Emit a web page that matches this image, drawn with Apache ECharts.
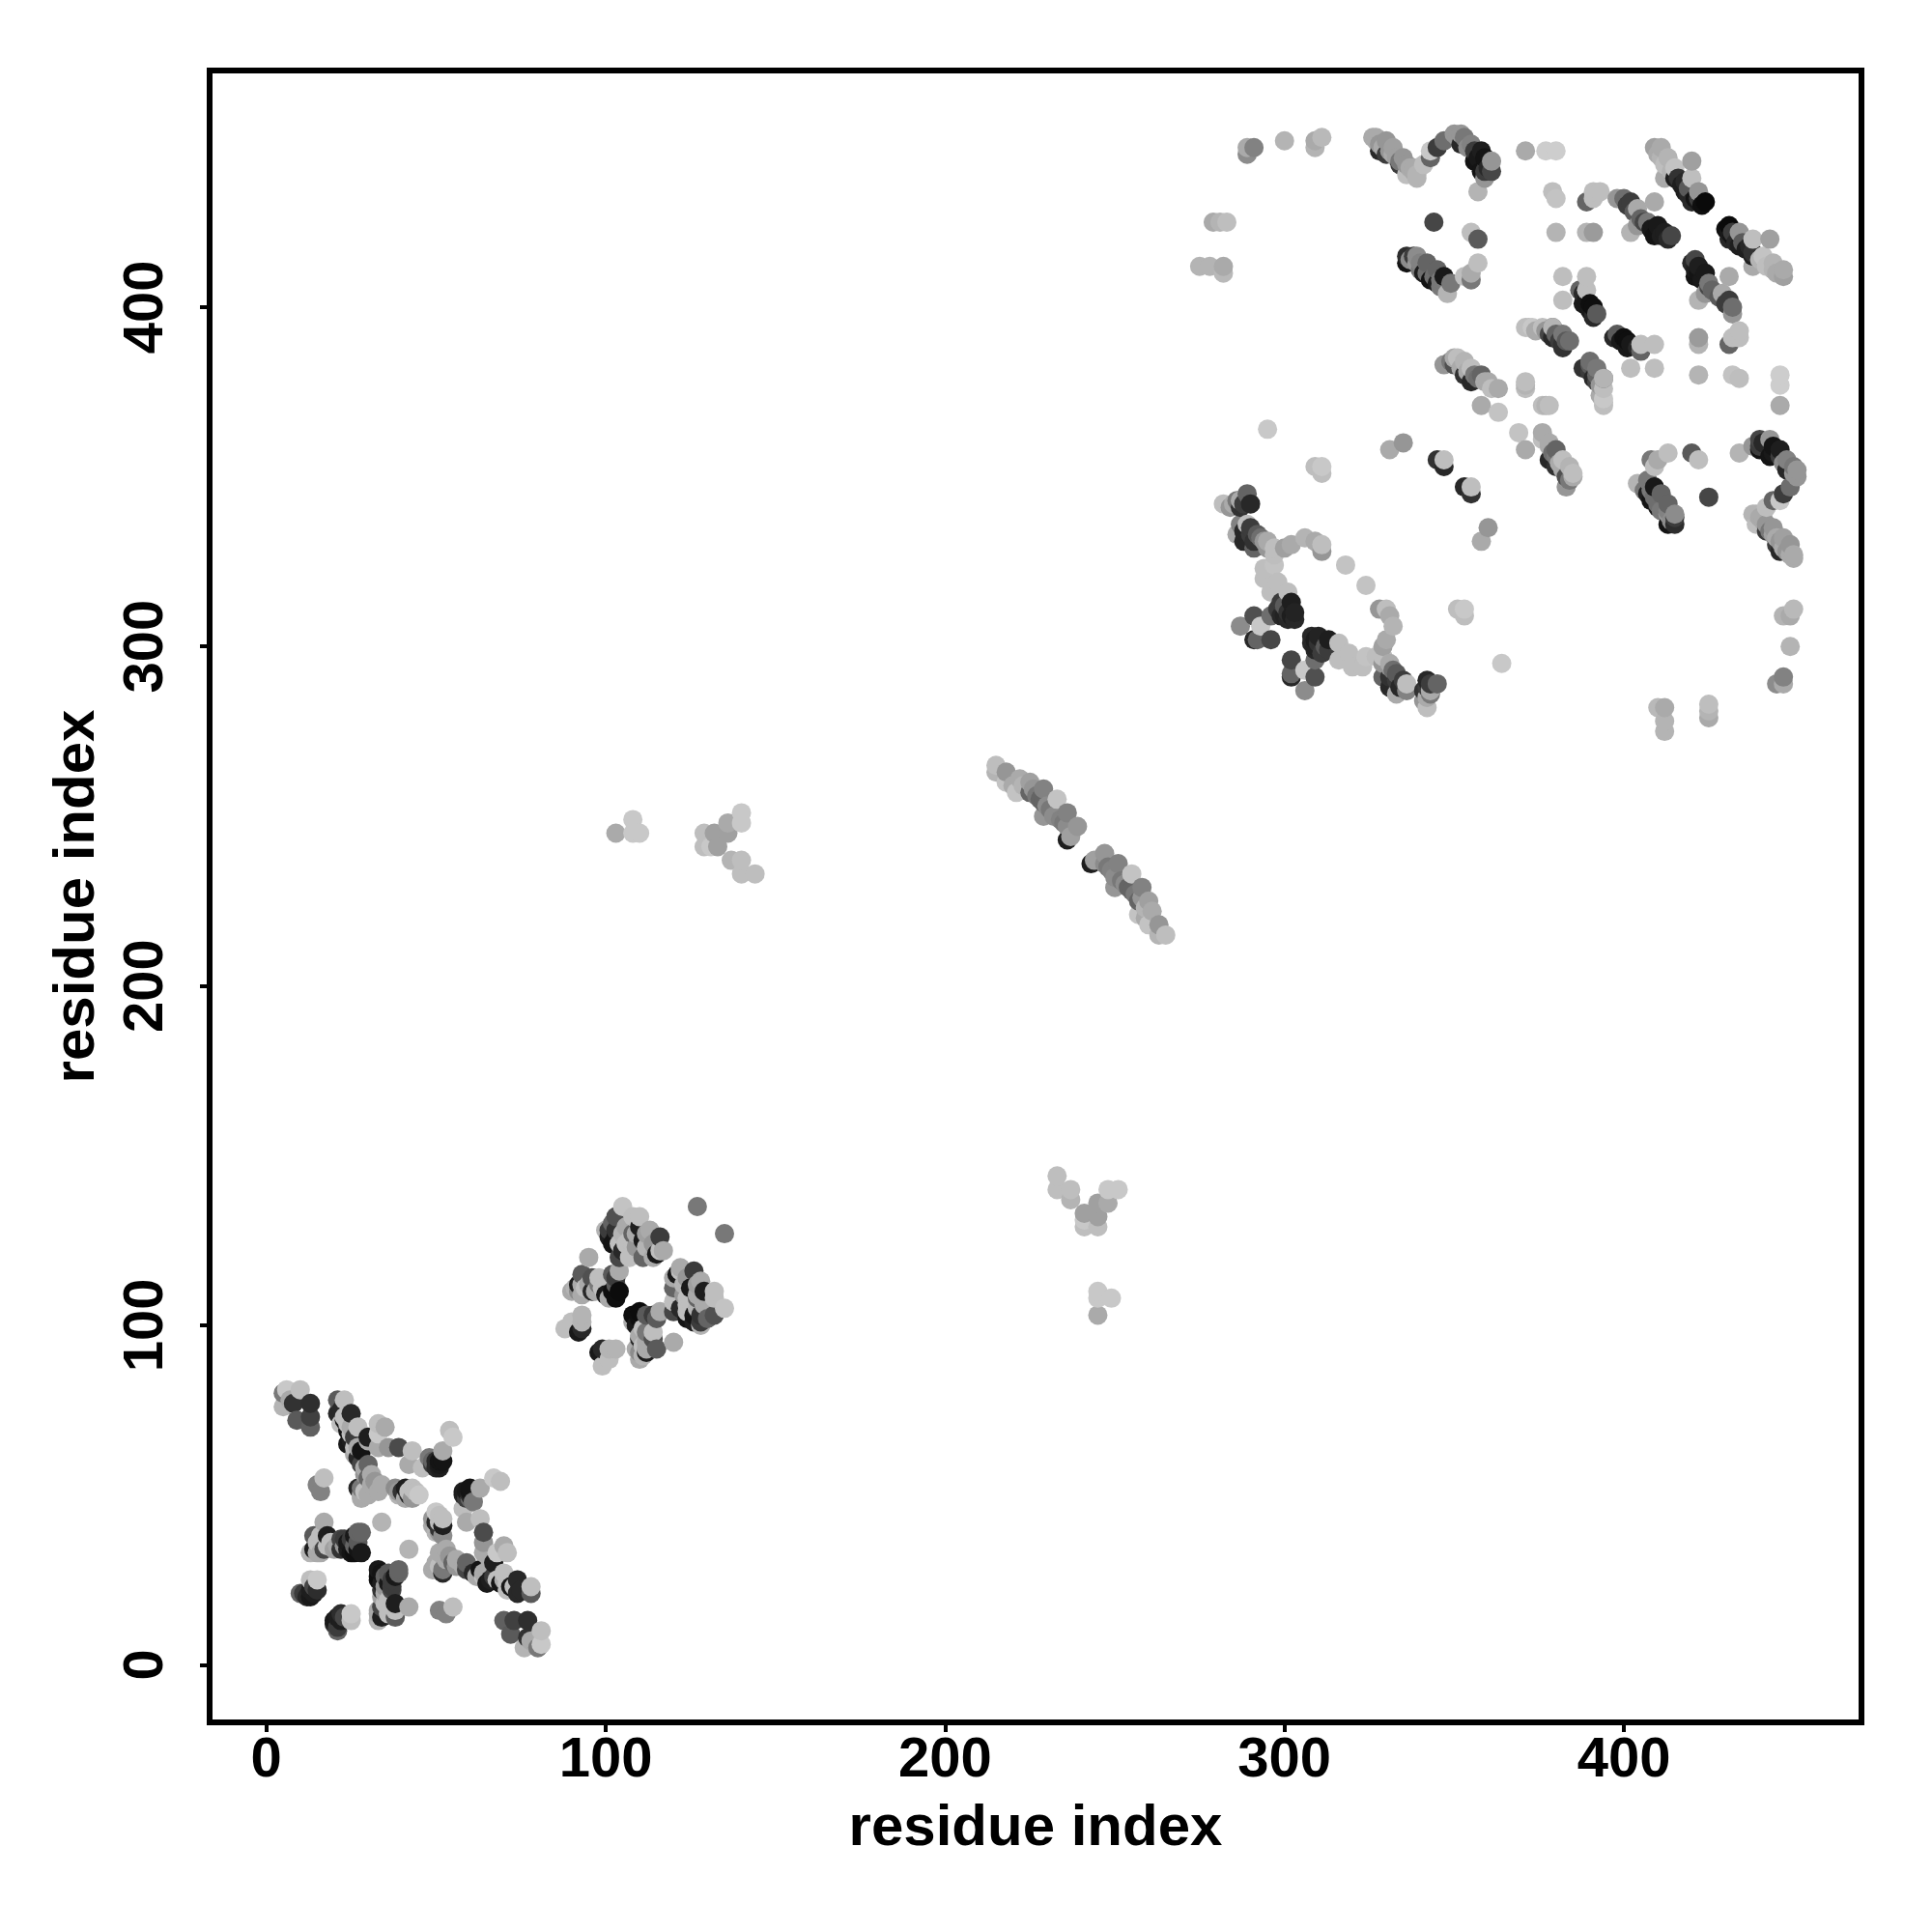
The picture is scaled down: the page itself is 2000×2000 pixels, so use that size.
<!DOCTYPE html>
<html><head><meta charset="utf-8">
<style>html,body{margin:0;padding:0;background:#fff}#c{width:2000px;height:2000px}</style>
<script src="https://cdn.jsdelivr.net/npm/echarts@6/dist/echarts.min.js"></script>
</head><body><div id="c"></div>
<script>
// contacts [residue i, residue j, grey level]; the map is symmetric, so each pair is drawn at (i,j) and (j,i)
const tickValues = [0,100,200,300,400];
const axisTitle = 'residue index';
const clusterA = [
[13,70,96],[9,72,90],[13,73,64],[8,77,50],[13,77,46],[5,76,180],[5,80,120],[7,78,170],[6,81,200],[10,81,190],
[21,78,90],[21,74,40],[25,74,40],[22,71,190],[24,69,20],[24,65,25],[23,78,190],[27,70,190],[25,66,30],[27,64,170],[28,63,20],[28,59,70],[30,59,100],[30,55,100],[28,52,120],[28,49,170],[28,50,170],[32,54,150],[34,53,170],[33,51,170],
[30,67,30],[30,66,170],[33,71,190],[35,70,170],[33,68,200],[33,64,170],[36,64,150],[39,64,75],[43,63,190],[42,59,170],[46,58,190],[48,61,120],[52,63,170],[50,58,40],[51,59,25],[54,69,190],[55,67,200],
[38,52,140],[41,52,30],[39,50,180],[43,49,150],[43,52,190],[45,50,200],
[15,53,130],[16,51,130],[17,55,190],
[34,42,180],[17,42,170],[14,38,90],[18,38,30],[13,33,180],[14,34,30],[17,34,70],[19,36,190],[22,37,70],[22,34,50],[20,34,160],[24,36,25],[26,38,25],[28,39,100],[25,33,20],[28,33,25],
[10,21,100],[13,20,25],[15,22,45],[13,25,190],[15,25,200],
[22,75,40],[23,73,190],[23,72,25],[24,71,190],[25,70,170],[25,68,190],[26,67,60],[26,64,190],[26,62,170],[27,61,40],[29,58,170],[29,56,150],[31,56,170],[31,53,170],[27,52,40],[29,51,190],[30,50,170],
[49,60,100],[49,59,60],[50,60,40],[51,60,20],[52,60,20],[51,58,30],[39,51,150],[40,51,50],[42,50,40],[42,51,190],[44,51,190],[41,49,170],
[16,38,190],[15,36,190],[15,33,170],[16,33,170],[18,35,190],[23,35,150],[24,34,30],[26,35,100],[26,33,15],[27,36,90],[27,34,20],[23,37,60],[25,37,60],[27,39,100],[21,35,170],
[12,20,40],[13,22,30],[14,21,30],[14,23,70],[11,21,60]
];
const clusterB = [
[100,128,180],[103,132,80],[105,135,195],[101,126,30],[104,120,70],[102,124,20],[107,125,190],[107,120,190],[108,132,190],[110,132,190],[110,129,30],[111,125,25],[111,120,100],[113,128,170],[109,123,150],[115,121,25],[116,122,190],[116,126,60],
[95,120,170],[93,115,90],[90,110,170],[93,109,170],[92,112,30],[96,114,80],[98,114,190],[96,110,40],[99,111,190],[100,109,25],[102,115,90],[103,108,15],[104,110,12],[104,116,170],
[88,99,190],[90,101,190],[92,98,25],[93,99,40],[93,103,180],[93,101,180],
[127,135,120],
[101,128,60],[102,130,100],[103,126,20],[103,128,50],[104,124,190],[105,127,180],[105,122,40],[106,129,170],[106,124,190],[108,127,100],[108,124,190],[109,127,170],[112,123,180],[112,127,160],[114,124,150],[114,120,170],[117,122,170],
[93,112,170],[94,111,190],[95,112,170],[97,110,170],[98,112,120],[101,108,170],[102,110,15],[103,112,90],[103,114,60],[91,111,180],[92,110,140]
];
const clusterC = [
[215,265,190],[215,263,180],[218,260,195],[218,263,150],[221,257,195],[222,261,170],[225,257,100],[225,260,160],[226,258,150],[229,254,100],[229,250,150],[229,258,130],[233,255,195],[232,250,140],[236,251,130],[236,247,140],[236,243,30],[239,247,150],[237,244,160],
[220,259,170],[223,259,180],[227,256,120],[228,255,100],[230,253,140],[231,252,120],[234,249,130],[235,248,120]
];
const clusterD = [
[103,245,170],[108,249,200],[108,245,200],[110,245,200],
[129,245,190],[129,241,190],[131,241,200],[132,245,160],[133,241,160],[136,248,170],[136,245,160],[140,251,200],[140,248,200],[137,237,180],[140,237,190],[140,233,190],[144,233,190]
];
const clusterE = [
[282,342,190],[284,341,150],[285,342,170],[287,341,50],[290,342,40],[287,343,170],[289,345,100],
[287,336,130],[286,333,170],[289,336,190],[288,331,40],[290,333,60],[292,333,90],[291,329,100],[295,331,170],[297,329,190],[297,327,190],[300,329,160],[302,330,170],[297,324,195],[294,323,190],[294,320,190],[298,319,190],[296,316,190],
[298,311,60],[299,309,40],[301,310,50],[303,310,35],[300,312,90],[301,316,190],
[306,332,180],[309,331,170],[311,328,150],[311,330,190],[318,324,195],
[296,309,110],[291,309,80],[287,306,140],[293,306,200],[291,302,40],[292,302,100],[296,302,70],
[288,342,60],[286,343,120],[289,343,60],[288,334,40],[290,335,60],[291,331,50],[293,332,110],[294,331,150],[295,329,150],[299,313,60],[300,309,35],[302,309,30],[301,308,40],[303,308,40],[302,313,30]
];
const clusterF = [
[326,450,170],[328,446,40],[327,450,170],[330,449,150],[330,445,60],[332,447,160],[334,442,60],[335,444,150],[338,441,170],[339,438,180],[336,439,190],[341,442,190],[343,446,200],[343,444,100],[345,447,60],[347,449,110],
[350,451,150],[352,451,150],[352,448,40],[353,450,120],[355,448,130],[356,443,20],[358,440,20],[358,446,30],[359,444,20],[359,440,60],[361,440,70],[361,443,150],[359,438,150],[357,434,180],
[344,425,70],[355,422,190],[357,420,90],
[336,415,45],[336,413,20],[338,415,60],[339,415,140],[340,413,130],[342,413,100],[341,410,30],[345,411,100],[343,408,20],[347,409,25],[346,406,120],[348,404,180],[349,407,120],[353,409,190],[355,408,120],[355,410,170],[357,413,190],
[371,446,170],[377,446,205],[380,446,205],[379,434,190],[380,432,195],[380,422,180],[389,422,180],[391,422,155],[389,431,100],[391,432,190],[391,434,190],[393,434,190],
[398,432,150],[400,432,110],[402,431,60],[409,431,170],[404,429,170],[404,424,150],[402,422,180],[407,425,120],[410,424,25],[411,421,30],[414,421,70],[409,421,20],
[409,447,160],[411,447,170],[413,444,180],[415,441,195],[412,438,170],[415,438,30],[418,437,40],[420,443,160],[420,438,190],[419,435,90],[422,432,60],[422,434,150],[420,431,40],[422,431,25],[424,431,10],
[382,409,190],[382,402,190],[389,409,190],[389,405,190],[387,405,100],[388,401,25],[391,397,40],[391,400,15],[392,398,90],
[371,394,190],[373,394,200],[376,394,190],[379,394,110],[379,391,40],[382,392,120],[384,390,110],[382,388,50],[379,394,180],[372,394,190],
[347,383,150],[351,385,190],[350,383,80],[353,384,180],[353,380,50],[355,382,190],[355,378,40],[358,380,100],[360,378,170],[363,376,170],[358,371,170],[363,369,195],
[371,377,180],[378,371,190],[376,371,190],
[331,358,170],[335,360,150],[345,355,50],[347,355,190],[347,353,40],
[309,353,190],[311,353,200],[311,351,190],[295,364,200],
[289,445,140],[289,447,170],[291,447,130],[300,449,180],[309,447,180],[309,449,170],[311,450,185],
[279,425,170],[281,425,180],[283,425,190],[275,412,180],[278,412,180],[282,412,170],[282,410,185],
[327,449,170],[328,448,150],[329,447,170],[331,446,150],[332,445,170],[333,444,160],[334,443,120],[336,442,150],[337,441,170],[338,440,170],[339,439,180],
[351,450,150],[354,447,140],[356,446,60],[357,444,25],[360,441,40],
[337,414,140],[339,413,150],[340,411,120],[342,410,110],[344,409,110],[345,407,30],[346,408,120],
[401,430,60],[403,428,90],[405,426,100],[406,425,70],[408,423,25],[410,422,20],[412,422,30],[413,420,40],
[410,445,170],[411,444,180],[412,442,190],[414,440,180],[416,438,50],[417,436,30],[418,434,30],[419,433,40],[421,432,20],[423,430,15],
[388,404,40],[389,402,25],[390,401,15],[390,399,25],
[374,393,170],[377,393,150],[378,392,70],[380,392,100],[381,390,60],[383,390,90],[382,389,50],
[349,384,120],[350,385,170],[352,382,170],[354,381,170],[356,380,120],[357,379,110],[359,378,170],[361,376,190]
];
const clusters = [clusterA, clusterB, clusterC, clusterD, clusterE, clusterF];
const points = [];
clusters.forEach(list => list.forEach(p => {
  points.push({value:[p[0],p[1]], g:p[2]});
  points.push({value:[p[1],p[0]], g:p[2]});
}));
// the plot draws contacts in residue order
points.sort((a,b)=>a.value[0]-b.value[0]||a.value[1]-b.value[1]);
const axisCommon = {
  type:'value', min:-16.7, max:470, name:axisTitle, nameLocation:'middle',
  nameTextStyle:{fontFamily:'Liberation Sans',fontWeight:'bold',fontSize:60,color:'#000'},
  splitLine:{show:false}, axisLine:{show:false,onZero:false},
  axisTick:{show:true,length:10,inside:false,customValues:tickValues,lineStyle:{color:'#000',width:4}}
};
const chart = echarts.init(document.getElementById('c'),null,{renderer:'canvas'});
chart.setOption({
  animation:false, backgroundColor:'#fff',
  grid:{left:217,right:73,top:73,bottom:217,show:true,borderColor:'#000',borderWidth:6,backgroundColor:'#fff'},
  xAxis:Object.assign({},axisCommon,{nameGap:80,
    axisLabel:{customValues:tickValues,margin:11,fontFamily:'Liberation Sans',fontWeight:'bold',fontSize:58,color:'#000'}}),
  yAxis:Object.assign({},axisCommon,{min:-17,max:469.7,nameGap:107,
    axisLabel:{customValues:tickValues,rotate:90,margin:65,verticalAlign:'middle',align:'center',fontFamily:'Liberation Sans',fontWeight:'bold',fontSize:58,color:'#000'}}),
  series:[{type:'scatter',silent:true,symbol:'circle',symbolSize:20,data:points,
    itemStyle:{opacity:1,color:p=>{const g=p.data.g;return 'rgb('+g+','+g+','+g+')';}}}]
});
</script></body></html>
